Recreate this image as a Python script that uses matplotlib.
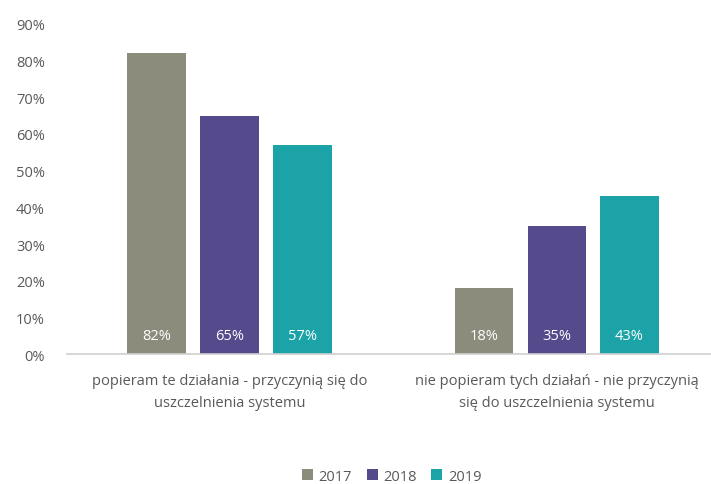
import numpy as np
import matplotlib
matplotlib.use('Agg')
import matplotlib.pyplot as plt
from matplotlib.ticker import MultipleLocator, FuncFormatter

plt.rcParams['font.family'] = ['Open Sans', 'DejaVu Sans']

categories = ['popieram te działania - przyczynią się do\nuszczelnienia systemu',
              'nie popieram tych działań - nie przyczynią\nsię do uszczelnienia systemu']
years = ['2017', '2018', '2019']
values_2017 = [82, 18]
values_2018 = [65, 35]
values_2019 = [57, 43]

colors = ['#8c8c7c', '#554a8c', '#1ba3a8']
text_col = '#595959'

fig = plt.figure(figsize=(7.11, 4.85), dpi=100)
ax = fig.add_axes([0.0942, 0.2680, 0.9058, 0.6805])

x = np.arange(len(categories))
width = 0.178
step = 0.223
series = [values_2017, values_2018, values_2019]
for i, (vals, col, yr) in enumerate(zip(series, colors, years)):
    pos = x + (i - 1) * step
    bars = ax.bar(pos, vals, width=width, color=col, label=yr, zorder=2)
    for p, v in zip(pos, vals):
        ax.text(p, 5, '{}%'.format(v), ha='center', va='center',
                color='white', fontsize=10.5)

ax.set_xlim(-0.497, 1.472)
ax.set_ylim(0, 90)
ax.yaxis.set_major_locator(MultipleLocator(10))
ax.yaxis.set_major_formatter(FuncFormatter(lambda v, p: '{:d}%'.format(int(round(v)))))
ax.tick_params(axis='y', length=0, pad=16, labelsize=10.5, labelcolor=text_col)
ax.tick_params(axis='x', length=0, pad=14, labelsize=10.5, labelcolor=text_col)
ax.set_xticks(x)
ax.set_xticklabels(categories, linespacing=1.55)
for s in ['top', 'right', 'left']:
    ax.spines[s].set_visible(False)
ax.spines['bottom'].set_color('#d0d0d0')
ax.spines['bottom'].set_linewidth(1.2)

leg = fig.legend(loc='center', bbox_to_anchor=(0.551, 0.016), ncol=3, frameon=False,
                 fontsize=10.5, handlelength=0.75, handleheight=0.75, handletextpad=0.4,
                 columnspacing=1.0, labelcolor=text_col)

fig.savefig('out.png', dpi=100)
